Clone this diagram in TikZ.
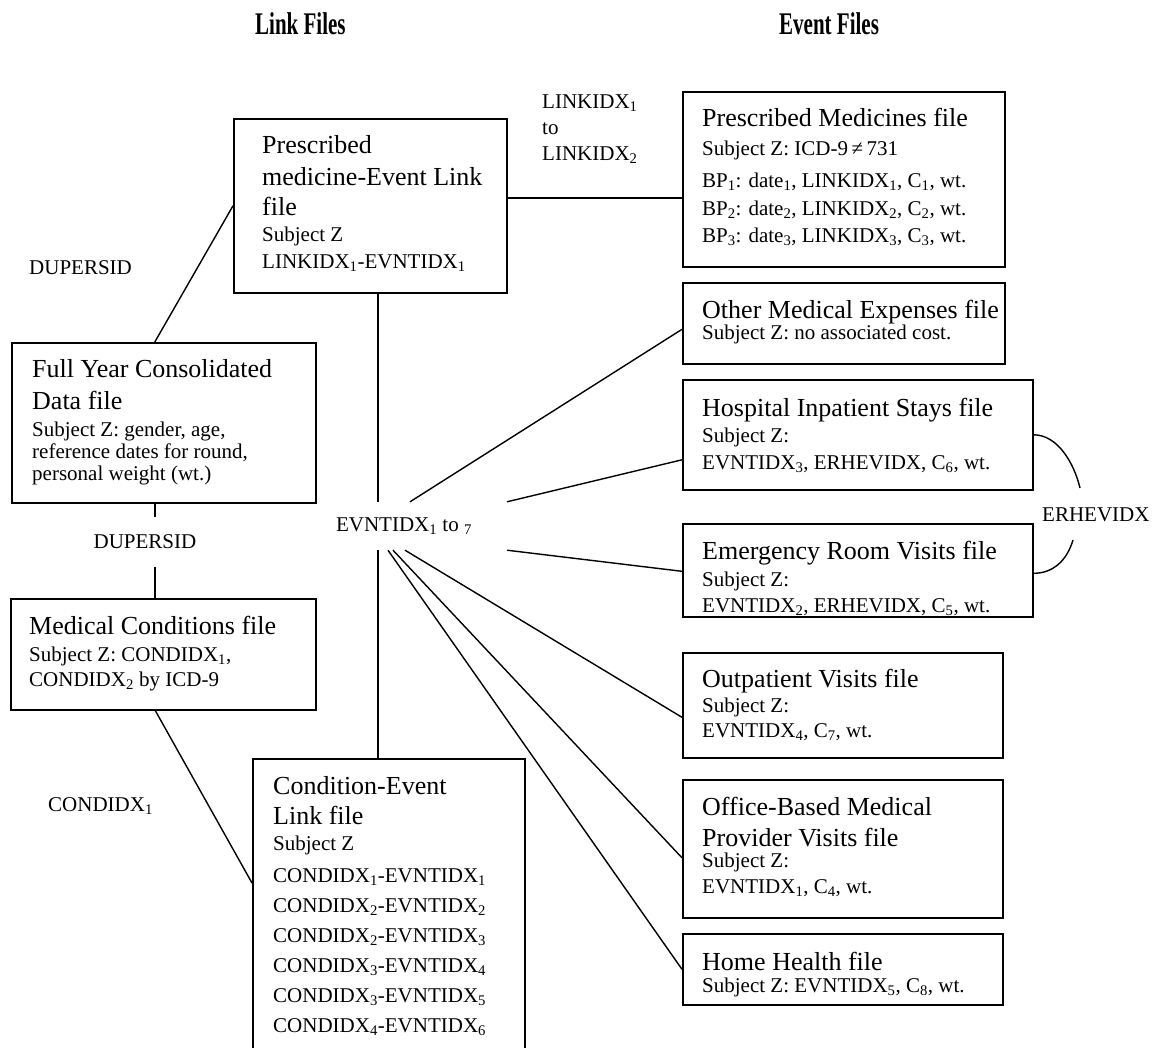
\documentclass[tikz,border=0pt]{standalone}
\usepackage{fontspec}
\usepackage{graphicx}
\setmainfont{Liberation Serif}
\usetikzlibrary{calc}
\newcommand\bigf{\fontsize{26}{31}\selectfont}
\newcommand\smf{\fontsize{21}{25}\selectfont}
\newcommand\LBig[2]{\baselineskip=#1pt\hbox{\bigf #2}}
\newcommand\LSm[2]{\baselineskip=#1pt\hbox{\smf #2}}
\newcommand\Lines[1]{\vtop{\lineskiplimit=-1000pt\lineskip=0pt #1}}
\newcommand\sbs[1]{\textsubscript{#1}}
\begin{document}
\begin{tikzpicture}[x=1pt,y=-1pt,
  fbox/.style={draw, line width=1.6pt, inner sep=0pt, anchor=north west},
  txt/.style={inner sep=0pt, anchor=base west},
  lbl/.style={inner sep=0pt, font=\smf},
  conn/.style={line width=1.4pt},
  hdr/.style={inner sep=0pt, anchor=west, font=\fontsize{21}{25}\selectfont\bfseries}]
\useasboundingbox (0,0) rectangle (1167,1047);

% headers
\node[hdr] (h1) at (255,24) {\scalebox{1}[1.5]{Link Files}};
\node[hdr] (h2) at (779,24) {\scalebox{1}[1.5]{Event Files}};

% boxes
\node[fbox, minimum width=273pt, minimum height=174pt] (pmel) at (233,118) {};
\node[fbox, minimum width=322pt, minimum height=175pt] (pm) at (682,91) {};
\node[fbox, minimum width=304pt, minimum height=160pt] (fyc) at (11,342) {};
\node[fbox, minimum width=305pt, minimum height=111pt] (mc) at (10,598) {};
\node[fbox, minimum width=272pt, minimum height=330pt] (ce) at (252,758) {};
\node[fbox, minimum width=322pt, minimum height=81pt] (ome) at (682,282) {};
\node[fbox, minimum width=350pt, minimum height=110pt] (hi) at (682,379) {};
\node[fbox, minimum width=350pt, minimum height=93pt] (er) at (682,523) {};
\node[fbox, minimum width=320pt, minimum height=105pt] (op) at (682,652) {};
\node[fbox, minimum width=320pt, minimum height=138pt] (ob) at (682,779) {};
\node[fbox, minimum width=320pt, minimum height=71pt] (hh) at (682,933) {};

% box texts
\node[txt] (pmelT) at ([shift={(29,35)}]pmel.north west) {\Lines{\LBig{0}{Prescribed}\LBig{32}{medicine-Event Link}\LBig{30}{file}\LSm{26}{Subject Z}\LSm{27}{LINKIDX\sbs{1}-EVNTIDX\sbs{1}}}};
\node[txt] (pmT) at ([shift={(20,35)}]pm.north west) {\Lines{\LBig{0}{Prescribed Medicines file}\LSm{29}{Subject Z: ICD-9\,≠\,731}\LSm{32}{BP\sbs{1}: date\sbs{1}, LINKIDX\sbs{1}, C\sbs{1}, wt.}\LSm{28}{BP\sbs{2}: date\sbs{2}, LINKIDX\sbs{2}, C\sbs{2}, wt.}\LSm{27}{BP\sbs{3}: date\sbs{3}, LINKIDX\sbs{3}, C\sbs{3}, wt.}}};
\node[txt] (fycT) at ([shift={(21,35)}]fyc.north west) {\Lines{\LBig{0}{Full Year Consolidated}\LBig{32}{Data file}\LSm{27}{Subject Z: gender, age,}\LSm{22}{reference dates for round,}\LSm{22}{personal weight (wt.)}}};
\node[txt] (mcT) at ([shift={(19,36)}]mc.north west) {\Lines{\LBig{0}{Medical Conditions file}\LSm{27}{Subject Z: CONDIDX\sbs{1},}\LSm{25}{CONDIDX\sbs{2} by ICD-9}}};
\node[txt] (ceT) at ([shift={(21,36)}]ce.north west) {\Lines{\LBig{0}{Condition-Event}\LBig{30}{Link file}\LSm{26}{Subject Z}\LSm{32}{CONDIDX\sbs{1}-EVNTIDX\sbs{1}}\LSm{30}{CONDIDX\sbs{2}-EVNTIDX\sbs{2}}\LSm{30}{CONDIDX\sbs{2}-EVNTIDX\sbs{3}}\LSm{30}{CONDIDX\sbs{3}-EVNTIDX\sbs{4}}\LSm{30}{CONDIDX\sbs{3}-EVNTIDX\sbs{5}}\LSm{30}{CONDIDX\sbs{4}-EVNTIDX\sbs{6}}}};
\node[txt] (omeT) at ([shift={(20,36)}]ome.north west) {\Lines{\LBig{0}{Other Medical Expenses file}\LSm{21}{Subject Z: no associated cost.}}};
\node[txt] (hiT) at ([shift={(20,37)}]hi.north west) {\Lines{\LBig{0}{Hospital Inpatient Stays file}\LSm{26}{Subject Z:}\LSm{27}{EVNTIDX\sbs{3}, ERHEVIDX, C\sbs{6}, wt.}}};
\begin{scope}
\clip (er.north west) rectangle (er.south east);
\node[txt] (erT) at ([shift={(20,36)}]er.north west) {\Lines{\LBig{0}{Emergency Room Visits file}\LSm{27}{Subject Z:}\LSm{26}{EVNTIDX\sbs{2}, ERHEVIDX, C\sbs{5}, wt.}}};
\end{scope}
\node[txt] (opT) at ([shift={(20,35)}]op.north west) {\Lines{\LBig{0}{Outpatient Visits file}\LSm{25}{Subject Z:}\LSm{25}{EVNTIDX\sbs{4}, C\sbs{7}, wt.}}};
\node[txt] (obT) at ([shift={(20,36)}]ob.north west) {\Lines{\LBig{0}{Office-Based Medical}\LBig{31}{Provider Visits file}\LSm{21}{Subject Z:}\LSm{26}{EVNTIDX\sbs{1}, C\sbs{4}, wt.}}};
\node[txt] (hhT) at ([shift={(20,37)}]hh.north west) {\Lines{\LBig{0}{Home Health file}\LSm{22}{Subject Z: EVNTIDX\sbs{5}, C\sbs{8}, wt.}}};

% labels
\node[lbl, anchor=west] (dup1) at (29,268) {DUPERSID};
\node[lbl, minimum height=50pt] (dup2) at (145,542) {DUPERSID};
\node[txt] (lnk) at (542,108) {\Lines{\LSm{0}{LINKIDX\sbs{1}}\LSm{26}{to}\LSm{26}{LINKIDX\sbs{2}}}};
\node[lbl, anchor=west] (cnd) at (48,806) {CONDIDX\sbs{1}};
\node[lbl, anchor=west] (erh) at (1042,515) {ERHEVIDX};
\node[lbl, minimum height=48pt] (hub) at (404,526) {EVNTIDX\sbs{1} to \sbs{7}};

% connectors
\draw[conn] ($(pmel.east)+(0,-8)$) coordinate (a1) -- (a1 -| pm.west);
\draw[conn] ($(fyc.north)+(-9,0)$) -- (pmel.west);
\coordinate (fx) at ($(fyc.south)+(-9,0)$);
\draw[conn] (fx) -- (fx |- dup2.north);
\draw[conn] (fx |- dup2.south) -- (fx |- mc.north);
\draw[conn] ($(mc.south)+(-8,0)$) -- ($(ce.north west)+(0,125)$);
\coordinate (hn) at ($(hub.north)+(-26,0)$);
\draw[conn] (hn |- pmel.south) -- (hn);
\draw[conn] (hub.south -| hn) -- (hn |- ce.north);
\draw[conn] ($(hub.north)+(6,0)$) -- ($(ome.west)+(0,6)$);
\draw[conn] ($(hub.north)+(103,0)$) -- ($(hi.west)+(0,25)$);
\draw[conn] ($(hub.south)+(103,0)$) -- ($(er.west)+(0,1)$);
\draw[conn] ($(hub.south)+(1,0)$) -- ($(op.west)+(0,12)$);
\draw[conn] ($(hub.south)+(-11,0)$) -- ($(ob.west)+(0,9)$);
\draw[conn] ($(hub.south)+(-16,0)$) -- (hh.west);
\coordinate (ea) at ($(erh.west)+(38,-27)$);
\coordinate (eb) at ($(erh.west)+(31,25)$);
\draw[conn] (hi.east) .. controls ($(hi.east)+(24,0)$) and ($(ea)+(-6,-25)$) .. (ea);
\draw[conn] (eb) .. controls ($(eb)+(-6,20)$) and ($(er.east)+(20,3)$) .. ($(er.east)+(0,3)$);
\end{tikzpicture}
\end{document}
